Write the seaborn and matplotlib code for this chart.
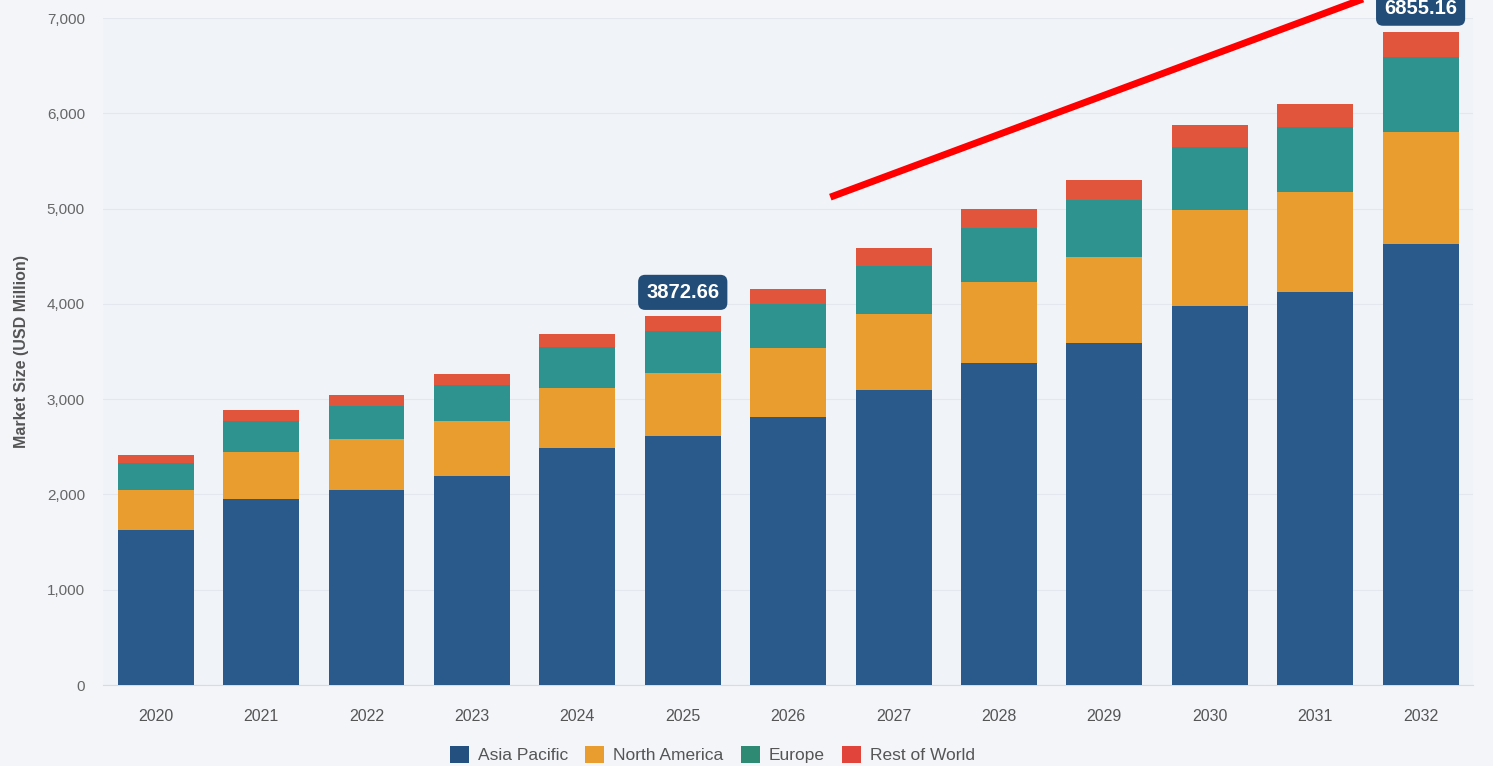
import numpy as np
import pandas as pd
import matplotlib
matplotlib.use("Agg")
import matplotlib.pyplot as plt
from matplotlib.patches import Patch
import seaborn as sns

years = ["2020", "2021", "2022", "2023", "2024", "2025", "2026",
         "2027", "2028", "2029", "2030", "2031", "2032"]
asia_pacific = [1627, 1952, 2046, 2193, 2487, 2613, 2813, 3096, 3379, 3589, 3977, 4124, 4628]
north_america = [419, 493, 536, 577, 630, 661, 724, 797, 850, 903, 1008, 1050, 1175]
europe = [284, 325, 346, 378, 430, 441, 461, 504, 567, 598, 661, 682, 787]
rest_of_world = [84, 116, 115, 116, 136, 158, 158, 189, 199, 210, 231, 241, 265]

series = ["Asia Pacific", "North America", "Europe", "Rest of World"]
colors = ["#2a5a8c", "#e99d2e", "#2e938e", "#e0553c"]
legend_colors = ["#24507f", "#e99d2e", "#2e8a72", "#e0443a"]
callouts = {"2025": "3872.66", "2032": "6855.16"}

sns.set_style("white")
plt.rcParams["font.family"] = ["Liberation Sans", "DejaVu Sans"]

df = pd.DataFrame({"year": years, "Asia Pacific": asia_pacific,
                   "North America": north_america, "Europe": europe,
                   "Rest of World": rest_of_world})
cum = df[series].cumsum(axis=1)

fig = plt.figure(figsize=(14.93, 7.66), dpi=100)
fig.patch.set_facecolor("#f3f5f9")
ax = fig.add_axes([0.069, 0.1057, 0.9178, 0.8708])
ax.set_facecolor("#f0f3f8")

# stacked bars: draw the cumulative totals from the top layer down
for name, col in zip(series[::-1], colors[::-1]):
    sns.barplot(x=df["year"], y=cum[name], color=col, width=0.72,
                saturation=1, ax=ax, zorder=3, linewidth=0)

ax.set_ylim(0, 7000)
ax.set_xlim(-0.5, len(years) - 0.5)
ax.set_yticks(np.arange(0, 7001, 1000))
ax.set_yticklabels([f"{v:,}" for v in range(0, 7001, 1000)])
ax.yaxis.grid(True, color="#e4e8ee", linewidth=0.8, zorder=0)
ax.tick_params(axis="y", length=0, labelsize=11, labelcolor="#666666", pad=13)
ax.tick_params(axis="x", length=0, labelsize=11.5, labelcolor="#555555", pad=17)
ax.set_xlabel("")
ax.set_ylabel("Market Size (USD Million)", fontsize=11.5, fontweight="bold",
              color="#555555", labelpad=13)
for s in ["top", "right", "left"]:
    ax.spines[s].set_visible(False)
ax.spines["bottom"].set_color("#d8dce2")

# value callouts
totals = cum["Rest of World"].values
for i, y in enumerate(years):
    if y in callouts:
        ax.annotate(callouts[y], xy=(i, totals[i]), xytext=(0, 17),
                    textcoords="offset points", ha="center", va="center",
                    fontsize=14.5, fontweight="bold", color="white", zorder=6,
                    annotation_clip=False,
                    bbox=dict(boxstyle="round,pad=0.4,rounding_size=0.35",
                              fc="#214d78", ec="none"))

# red trend arrow line
ax.plot([6.4, 11.6], [5120, 7260], color="#ff0000", linewidth=5,
        solid_capstyle="butt", clip_on=False, zorder=5)

handles = [Patch(facecolor=c, edgecolor="none", label=s)
           for s, c in zip(series, legend_colors)]
fig.legend(handles=handles, loc="center", bbox_to_anchor=(0.477, 0.015),
           ncol=4, frameon=False, fontsize=12.5, handlelength=1.1,
           handleheight=1.1, handletextpad=0.5, columnspacing=1.0,
           labelcolor="#555555")

fig.savefig("out.png", dpi=100, facecolor=fig.get_facecolor())
